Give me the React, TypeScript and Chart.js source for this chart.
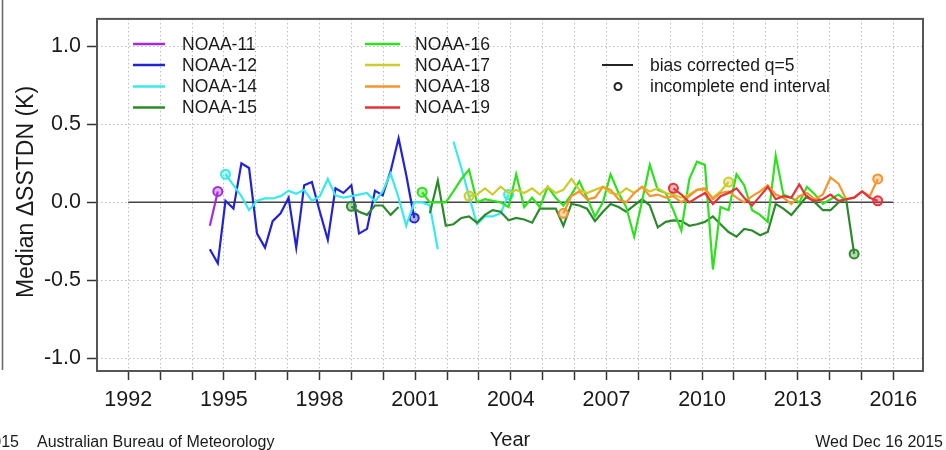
import React, { useEffect, useRef } from 'react';
import { Chart, registerables } from 'chart.js';

Chart.register(...registerables);

// Sample times (decimal years) of the ~quarterly intervals
const QUARTER_YEARS = [
  1994.56, 1994.81, 1995.05, 1995.30, 1995.55, 1995.79, 1996.04, 1996.29, 1996.53, 1996.78,
  1997.03, 1997.27, 1997.52, 1997.76, 1998.01, 1998.26, 1998.50, 1998.75, 1999.00, 1999.24,
  1999.49, 1999.74, 1999.98, 2000.23, 2000.48, 2000.72, 2000.97, 2001.22, 2001.46, 2001.71,
  2001.96, 2002.20, 2002.45, 2002.69, 2002.94, 2003.19, 2003.43, 2003.68, 2003.93, 2004.17,
  2004.42, 2004.67, 2004.91, 2005.16, 2005.41, 2005.65, 2005.90, 2006.15, 2006.39, 2006.64,
  2006.89, 2007.13, 2007.38, 2007.62, 2007.87, 2008.12, 2008.36, 2008.61, 2008.86, 2009.10,
  2009.35, 2009.60, 2009.84, 2010.09, 2010.34, 2010.58, 2010.83, 2011.08, 2011.32, 2011.57,
  2011.82, 2012.06, 2012.31, 2012.55, 2012.80, 2013.05, 2013.29, 2013.54, 2013.79, 2014.03,
  2014.28, 2014.52, 2014.77, 2015.02, 2015.26, 2015.51,
];

const SERIES_NAMES = ['NOAA-11', 'NOAA-12', 'NOAA-14', 'NOAA-15', 'NOAA-16', 'NOAA-17', 'NOAA-18', 'NOAA-19'];
const SERIES_COLORS = ['#a32be0', '#2323d6', '#38eaea', '#2c8a2c', '#2ee01e', '#cccc2e', '#f7952c', '#e8323a'];

const N11_START = 0;
const N11 = [-0.15, 0.07];
const N11_OPEN = [1];

const N12_START = 0;
const N12 = [-0.30, -0.39, 0.01, -0.04, 0.25, 0.22, -0.20, -0.29, -0.12, -0.07, 0.03, -0.29, 0.11, 0.13,
  -0.06, -0.24, 0.09, 0.06, 0.11, -0.20, -0.17, 0.075, 0.045, 0.20, 0.41, 0.175, -0.10];
const N12_OPEN = [26];

const N14_START = 2;
const N14 = [0.18, 0.11, 0.04, -0.05, 0.01, 0.025, 0.025, 0.04, 0.075, 0.055, 0.08, 0.01, 0.04, 0.15,
  0.045, 0.03, 0.04, 0.05, 0.06, 0.005, 0.07, 0.185, 0.03, -0.15, 0.0, 0.0, -0.02, -0.30, null,
  0.39, 0.22, 0.04, -0.14, -0.09, -0.09, -0.07, 0.05];
const N14_OPEN = [0, 36];

const N15_START = 18;
const N15 = [-0.025, -0.06, -0.08, -0.02, -0.02, -0.08, -0.03, null, null, null, -0.07, 0.14, -0.15,
  -0.14, -0.10, -0.09, -0.13, -0.08, -0.05, -0.06, -0.115, -0.10, -0.11, -0.13, -0.04, -0.04, -0.04,
  -0.15, -0.01, -0.02, -0.04, -0.12, -0.06, -0.01, -0.03, -0.06, -0.02, 0.02, -0.02, -0.16, -0.125,
  -0.115, -0.12, -0.15, -0.14, -0.125, -0.09, -0.14, -0.19, -0.22, -0.17, -0.18, -0.21, -0.19, -0.01,
  -0.04, -0.08, -0.02, 0.04, 0.0, -0.05, -0.05, 0.0, 0.02, -0.33];
const N15_OPEN = [0, 64];

const N16_START = 27;
const N16 = [0.065, 0.0, 0.0, 0.0, 0.07, 0.15, 0.21, 0.0, 0.02, 0.01, 0.0, -0.03, 0.18, -0.03, 0.03,
  -0.03, 0.10, 0.03, -0.02, 0.05, 0.135, 0.03, -0.09, 0.0, 0.18, 0.06, -0.03, -0.22, 0.01, 0.24, 0.08,
  0.06, -0.05, -0.18, 0.15, 0.26, 0.24, -0.43, -0.03, -0.05, 0.18, 0.11, -0.05, -0.08, -0.125, 0.30,
  0.05, 0.03, 0.0, 0.10, 0.05, -0.01, 0.02, 0.05, 0.01];
const N16_OPEN = [0];

const N17_START = 33;
const N17 = [0.04, 0.05, 0.09, 0.05, 0.10, 0.06, 0.08, 0.06, 0.09, 0.05, 0.10, 0.06, 0.08, 0.15, 0.08,
  0.06, 0.08, 0.10, 0.06, 0.05, 0.09, 0.06, 0.10, 0.07, 0.09, 0.06, 0.05, 0.03, 0.05, 0.08, 0.08, 0.03,
  0.07, 0.13];
const N17_OPEN = [0, 33];

const N18_START = 45;
const N18 = [-0.07, 0.04, 0.07, 0.02, 0.03, 0.10, 0.08, 0.02, 0.0, 0.06, 0.10, 0.04, 0.05, 0.03, 0.04,
  0.0, 0.04, 0.08, 0.09, 0.02, 0.06, 0.07, 0.03, 0.0, 0.04, 0.07, 0.11, 0.05, 0.03, -0.01, 0.04, 0.06,
  0.02, 0.05, 0.16, 0.12, 0.02, 0.03, 0.07, 0.04, 0.15];
const N18_OPEN = [0, 40];

const N19_START = 59;
const N19 = [0.09, 0.05, 0.0, 0.03, 0.06, -0.01, 0.04, 0.06, 0.09, 0.03, -0.02, 0.04, 0.10, 0.02, 0.04,
  0.03, 0.115, 0.03, 0.01, 0.02, 0.05, 0.01, 0.02, 0.03, 0.07, 0.03, 0.01];
const N19_OPEN = [0, 26];

const SERIES_STARTS = [N11_START, N12_START, N14_START, N15_START, N16_START, N17_START, N18_START, N19_START];
const SERIES_VALUES = [N11, N12, N14, N15, N16, N17, N18, N19];
const SERIES_OPEN = [N11_OPEN, N12_OPEN, N14_OPEN, N15_OPEN, N16_OPEN, N17_OPEN, N18_OPEN, N19_OPEN];

const ZERO_LINE_YEARS = [1992, 2016];
const X_TICK_YEARS = [1992, 1993, 1994, 1995, 1996, 1997, 1998, 1999, 2000, 2001, 2002, 2003, 2004,
  2005, 2006, 2007, 2008, 2009, 2010, 2011, 2012, 2013, 2014, 2015, 2016];
const X_LABEL_YEARS = [1992, 1995, 1998, 2001, 2004, 2007, 2010, 2013, 2016];
const Y_TICKS = [-1.0, -0.5, 0.0, 0.5, 1.0];

const LEGEND_EXTRA = ['bias corrected q=5', 'incomplete end interval'];
const Y_TITLE = 'Median \u0394SSTDN (K)';
const X_TITLE = 'Year';
const FOOT_LEFT = 'Australian Bureau of Meteorology';
const FOOT_LEFT_CUT = '\u00a92015';
const FOOT_RIGHT = 'Wed Dec 16 2015';

const FONT = '"Liberation Sans", Arial, Helvetica, sans-serif';

function toRgba(hex: string, a: number) {
  const n = parseInt(hex.slice(1), 16);
  return `rgba(${(n >> 16) & 255},${(n >> 8) & 255},${n & 255},${a})`;
}

const decorPlugin = {
  id: 'decor',
  afterDraw(chart: any) {
    const { ctx, chartArea } = chart;
    ctx.save();
    // frame around plot
    ctx.strokeStyle = '#555';
    ctx.lineWidth = 2;
    ctx.strokeRect(chartArea.left, chartArea.top, chartArea.right - chartArea.left, chartArea.bottom - chartArea.top);
    // left partial panel edge
    ctx.strokeStyle = '#666';
    ctx.lineWidth = 1.5;
    ctx.beginPath();
    ctx.moveTo(2.5, 0);
    ctx.lineTo(2.5, 370);
    ctx.stroke();

    // legend
    ctx.font = `17.5px ${FONT}`;
    ctx.textBaseline = 'middle';
    ctx.textAlign = 'left';
    const rows = [44, 65, 86.5, 107.5];
    SERIES_NAMES.forEach((name, i) => {
      const col = i < 4 ? 0 : 1;
      const r = i % 4;
      const x0 = col === 0 ? 133 : 365;
      const x1 = col === 0 ? 165 : 400;
      const tx = col === 0 ? 182 : 415;
      ctx.strokeStyle = SERIES_COLORS[i];
      ctx.lineWidth = 2.5;
      ctx.beginPath();
      ctx.moveTo(x0, rows[r]);
      ctx.lineTo(x1, rows[r]);
      ctx.stroke();
      ctx.fillStyle = '#1a1a1a';
      ctx.fillText(name, tx, rows[r] + 1);
    });
    ctx.strokeStyle = '#222';
    ctx.lineWidth = 2;
    ctx.beginPath();
    ctx.moveTo(602, rows[1]);
    ctx.lineTo(633, rows[1]);
    ctx.stroke();
    ctx.beginPath();
    ctx.arc(618, rows[2], 3.5, 0, Math.PI * 2);
    ctx.stroke();
    ctx.fillStyle = '#1a1a1a';
    ctx.fillText(LEGEND_EXTRA[0], 650, rows[1] + 1);
    ctx.fillText(LEGEND_EXTRA[1], 650, rows[2] + 1);

    // y title
    ctx.save();
    ctx.translate(27, 192);
    ctx.rotate(-Math.PI / 2);
    ctx.font = `23px ${FONT}`;
    ctx.textAlign = 'center';
    ctx.textBaseline = 'middle';
    ctx.fillText(Y_TITLE, 0, 0);
    ctx.restore();

    // x title
    ctx.font = `20px ${FONT}`;
    ctx.textAlign = 'center';
    ctx.textBaseline = 'middle';
    ctx.fillText(X_TITLE, 510, 440);

    // footers
    ctx.font = `16px ${FONT}`;
    ctx.textAlign = 'left';
    ctx.fillText(FOOT_LEFT, 37, 443);
    ctx.textAlign = 'right';
    ctx.fillText(FOOT_LEFT_CUT, 19, 443);
    ctx.fillText(FOOT_RIGHT, 943, 443);
    ctx.restore();
  },
};

export default function App() {
  const ref = useRef<HTMLCanvasElement | null>(null);

  useEffect(() => {
    if (!ref.current) return;
    const datasets: any[] = SERIES_NAMES.map((name, i) => {
      const start = SERIES_STARTS[i];
      const open = SERIES_OPEN[i];
      return {
        label: name,
        data: SERIES_VALUES[i].map((v, j) => ({ x: QUARTER_YEARS[start + j], y: v })),
        borderColor: SERIES_COLORS[i],
        backgroundColor: SERIES_COLORS[i],
        borderWidth: 2.2,
        tension: 0,
        spanGaps: false,
        pointRadius: (c: any) => (open.includes(c.dataIndex) ? 4.5 : 0),
        pointBorderWidth: 2,
        pointBorderColor: SERIES_COLORS[i],
        pointBackgroundColor: toRgba(SERIES_COLORS[i], 0.35),
        pointHoverRadius: 0,
        order: 20 - i,
      };
    });
    datasets.push({
      label: 'zero',
      data: ZERO_LINE_YEARS.map((x) => ({ x, y: 0 })),
      borderColor: '#444',
      borderWidth: 1.5,
      pointRadius: 0,
      order: 100,
    });

    const chart = new Chart(ref.current, {
      type: 'line',
      data: { datasets },
      options: {
        responsive: false,
        animation: false,
        events: [],
        layout: { padding: { left: 0, right: 23, top: 10, bottom: 0 } },
        plugins: { legend: { display: false }, tooltip: { enabled: false }, title: { display: false } },
        scales: {
          x: {
            type: 'linear',
            min: 1991.02,
            max: 2016.93,
            afterBuildTicks: (s: any) => {
              s.ticks = X_TICK_YEARS.map((v) => ({ value: v }));
            },
            afterFit: (s: any) => {
              s.height = 79;
            },
            ticks: {
              autoSkip: false,
              maxRotation: 0,
              padding: 7,
              color: '#1a1a1a',
              font: { family: FONT, size: 21.5 },
              callback: (v: any) => (X_LABEL_YEARS.includes(Number(v)) ? String(v) : ''),
            },
            grid: {
              color: '#bdbdbd',
              lineWidth: 1,
              tickLength: 9,
              tickColor: '#333',
              tickWidth: 1.5,
              tickBorderDash: [],
            },
            border: { display: false, dash: [1.5, 2.5] },
          },
          y: {
            type: 'linear',
            min: -1.08,
            max: 1.175,
            afterBuildTicks: (s: any) => {
              s.ticks = Y_TICKS.map((v) => ({ value: v }));
            },
            afterFit: (s: any) => {
              s.width = 97;
            },
            ticks: {
              padding: 6,
              color: '#1a1a1a',
              font: { family: FONT, size: 21.5 },
              callback: (v: any) => Number(v).toFixed(1),
            },
            grid: {
              color: '#bdbdbd',
              lineWidth: 1,
              tickLength: 10,
              tickColor: '#333',
              tickWidth: 1.5,
              tickBorderDash: [],
            },
            border: { display: false, dash: [1.5, 2.5] },
          },
        },
      },
      plugins: [decorPlugin],
    });
    return () => chart.destroy();
  }, []);

  return (
    <div style={{ position: 'absolute', left: 0, top: 0, width: 946, height: 450, background: '#fff' }}>
      <canvas ref={ref} width={946} height={450} style={{ display: 'block' }} />
    </div>
  );
}
